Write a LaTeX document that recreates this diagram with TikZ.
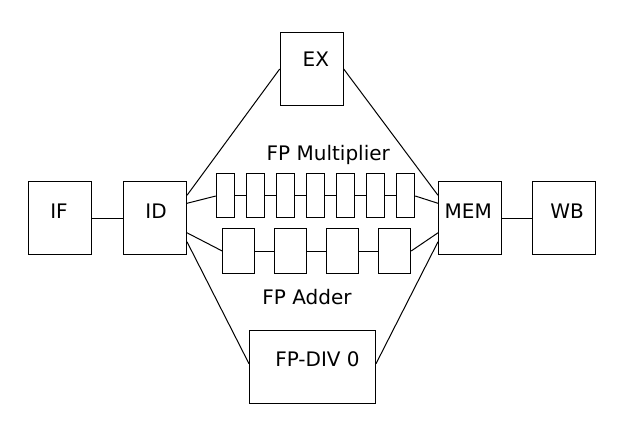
\documentclass[tikz,border=0pt]{standalone}
\usepackage{fontspec}
\setmainfont{DejaVu Sans}
\usepackage{tikz}
\tikzset{
  stage/.style={draw=black, line width=1pt, minimum width=63pt,
        minimum height=73pt, inner sep=0pt},
  mulstage/.style={draw=black, line width=1pt, minimum width=18pt,
        minimum height=44pt, inner sep=0pt},
  addstage/.style={draw=black, line width=1pt, minimum width=32pt,
        minimum height=44pt, inner sep=0pt},
  txt/.style={anchor=base, inner sep=0pt, font=\fontsize{20}{24}\selectfont},
  wire/.style={line width=1pt, draw=black}
}

\begin{document}
\begin{tikzpicture}[x=1pt, y=-1pt]
\useasboundingbox (0,0) rectangle (619,425);
% pipeline stages
\node[stage] (IF) at (59.5,218.3) {};
\node[stage] (ID) at (155,218.3) {};
\node[stage] (EX) at (311.7,69) {};
\node[stage, minimum width=126pt] (div) at (312.5,366.7) {};
\node[stage] (MEM) at (470,218.3) {};
\node[stage] (WB) at (563.5,218.3) {};
\node[txt] (IFt) at (59,218.3) {IF};
\node[txt] (IDt) at (156,218.3) {ID};
\node[txt] (EXt) at (315.8,66.7) {EX};
\node[txt] (divt) at (317.5,366.7) {FP-DIV 0};
\node[txt] (MEMt) at (468.3,218.3) {MEM};
\node[txt] (WBt) at (567,218.3) {WB};
% multiplier and adder stages
\foreach \i in {1,...,7}
  \node[mulstage] (m\i) at ({225.3+30.07*(\i-1)},196) {};
\foreach \i in {1,...,4}
  \node[addstage] (a\i) at ({238.7+52*(\i-1)},251) {};
\node[txt] (mult) at (328.3,160.7) {FP Multiplier};
\node[txt] (add) at (307,304) {FP Adder};

\draw[wire] (IF) -- (ID);
\draw[wire] (MEM) -- (WB);
\draw[wire] ([yshift=23pt]ID.east) -- (EX.west);
\draw[wire] (EX.east) -- ([yshift=23pt]MEM.west);
\draw[wire] ([yshift=15pt]ID.east) -- (m1.west);
\foreach \i [evaluate=\i as \j using int(\i+1)] in {1,...,6}
  \draw[wire] (m\i.east) -- (m\j.west);
\draw[wire] (m7.east) -- ([yshift=15pt]MEM.west);
\draw[wire] ([yshift=-14.5pt]ID.east) -- (a1.west);
\foreach \i [evaluate=\i as \j using int(\i+1)] in {1,...,3}
  \draw[wire] (a\i.east) -- (a\j.west);
\draw[wire] (a4.east) -- ([yshift=-14.5pt]MEM.west);
\draw[wire] ([yshift=-23.5pt]ID.east) -- ([yshift=3pt]div.west);
\draw[wire] ([yshift=3pt]div.east) -- ([yshift=-23.5pt]MEM.west);
\end{tikzpicture}
\end{document}
